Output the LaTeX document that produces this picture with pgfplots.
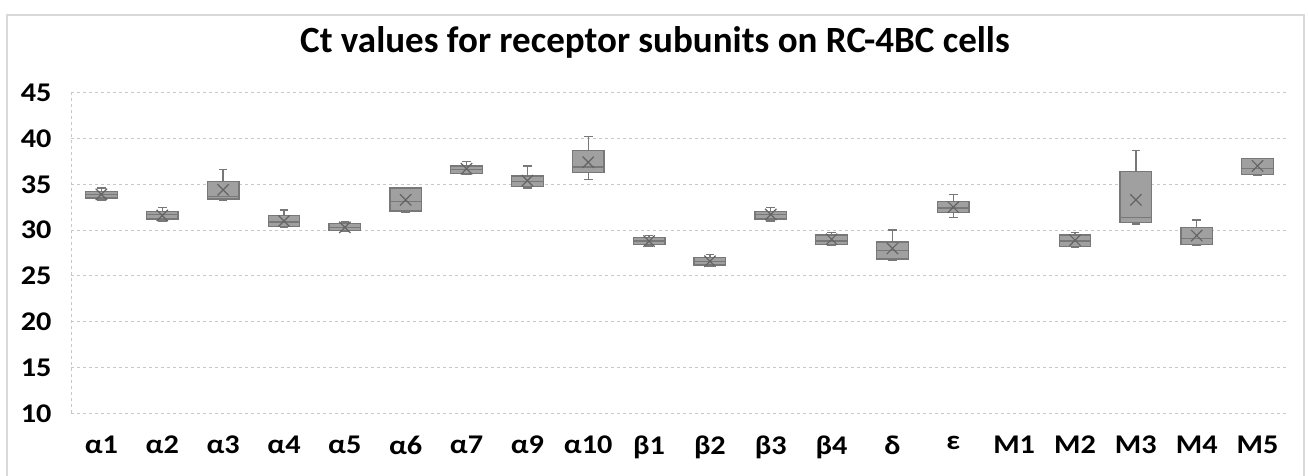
\documentclass[border=0pt]{standalone}
\usepackage{fontspec}
\setmainfont{Carlito}
\newfontfamily\tickfont{Carlito}[FakeStretch=1.12]
\usepackage{pgfplots}
\usepackage{pgfplotstable}
\pgfplotsset{compat=1.18}
\definecolor{boxfill}{RGB}{160,160,160}
\definecolor{boxedge}{RGB}{120,120,120}
\definecolor{meanc}{RGB}{100,100,100}
\definecolor{gridc}{RGB}{200,200,200}
\definecolor{framec}{RGB}{217,217,217}
\pgfplotstableread{
x lw q1 med q3 uw mean
0 33.3 33.5 33.9 34.2 34.6 33.9
1 31.0 31.2 31.7 32.0 32.5 31.6
2 33.3 33.4 33.7 35.3 36.6 34.4
3 30.3 30.4 30.9 31.6 32.2 31.0
4 29.9 29.95 30.3 30.7 30.9 30.3
5 31.95 32.1 33.1 34.6 34.6 33.3
6 36.1 36.2 36.6 37.0 37.5 36.7
7 34.6 34.75 35.3 35.9 37.0 35.4
8 35.5 36.3 36.9 38.7 40.2 37.4
9 28.25 28.4 28.8 29.2 29.4 28.8
10 26.0 26.2 26.6 27.0 27.3 26.6
11 31.0 31.2 31.7 32.0 32.5 31.7
12 28.3 28.4 28.8 29.45 29.7 29.0
13 26.7 26.85 27.8 28.7 30.0 28.0
14 31.35 31.9 32.4 33.1 33.9 32.5
16 28.1 28.2 28.8 29.45 29.7 28.9
17 30.65 30.8 31.4 36.4 38.7 33.3
18 28.3 28.4 29.1 30.25 31.1 29.4
19 36.0 36.05 36.75 37.85 37.85 37.0
}\boxdata
\pgfplotsset{geom/.style={
  at={(71pt,62.7pt)}, anchor=south west,
  scale only axis, width=1217pt, height=320.6pt,
  xmin=-0.5, xmax=19.5, ymin=10, ymax=45}}
\begin{document}
\begin{tikzpicture}
\useasboundingbox (0pt,0pt) rectangle (1308pt,476pt);
\draw[framec, line width=1.2pt] (7pt,0pt) -- (7pt,461pt) -- (1304pt,461pt) -- (1304pt,0pt);
\node[font=\fontsize{37pt}{37pt}\selectfont\bfseries, anchor=base, inner sep=0pt] at (655pt,423pt) {Ct values for receptor subunits on RC-4BC cells};
% axis, grid, whiskers
\begin{axis}[geom,
  ytick={10,15,...,45},
  xtick={0,...,19},
  xticklabels={α1,α2,α3,α4,α5,α6,α7,α9,α10,β1,β2,β3,β4,δ,ε,M1,M2,M3,M4,M5},
  major tick length=0pt,
  axis x line*=bottom, axis y line*=left,
  x axis line style={draw=none},
  y axis line style={draw=gridc, dashed, line width=1pt, -},
  ymajorgrids, grid style={draw=gridc, dashed, line width=1pt},
  /pgf/number format/assume math mode=true,
  tick label style={font=\tickfont\fontsize{27pt}{27pt}\selectfont\bfseries},
  yticklabel style={xshift=-16pt},
  xticklabel style={yshift=-19pt},
]
\addplot[only marks, mark=none, error bars/.cd, y dir=both, y explicit,
  error bar style={draw=boxedge, line width=1.3pt, solid},
  error mark options={rotate=90, draw=boxedge, line width=1.3pt, mark size=4.3pt}]
  table[x=x, y=med, y error plus expr=\thisrow{uw}-\thisrow{med}, y error minus expr=\thisrow{med}-\thisrow{lw}] {\boxdata};
\end{axis}
% boxes
\begin{axis}[geom, hide axis, ybar stacked, bar width=0.52]
\addplot[draw=none, fill=none] table[x=x, y=q1] {\boxdata};
\addplot[draw=boxedge, fill=boxfill, line width=1.3pt] table[x=x, y expr=\thisrow{med}-\thisrow{q1}] {\boxdata};
\addplot[draw=boxedge, fill=boxfill, line width=1.3pt] table[x=x, y expr=\thisrow{q3}-\thisrow{med}] {\boxdata};
\end{axis}
% means
\begin{axis}[geom, hide axis]
\addplot[only marks, mark=x, mark size=8pt, mark options={draw=meanc, line width=1.2pt}] table[x=x, y=mean] {\boxdata};
\end{axis}
\end{tikzpicture}
\end{document}
